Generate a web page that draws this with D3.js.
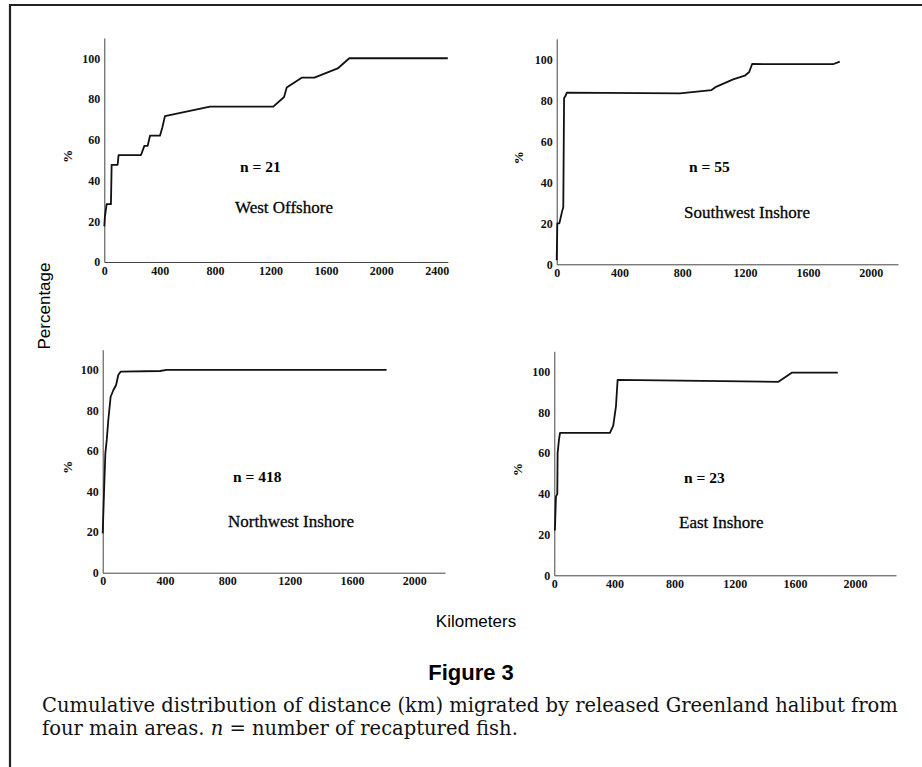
<!DOCTYPE html>
<html lang="en">
<head>
<meta charset="utf-8">
<title>Figure 3</title>
<script src="https://d3js.org/d3.v7.min.js"></script>
<style>
  body { margin: 0; background: #fff; }
  svg { display: block; }
  .axis text { font-family: "Liberation Serif", serif; font-weight: bold; font-size: 12px; fill: #111; }
  .axis path { stroke: #444; stroke-width: 1; }
</style>
</head>
<body>
<script>
// values (km, cumulative %)
const westKm  = [0, 4, 17, 48, 53, 96, 103, 265, 289, 313, 330, 402, 419, 438, 763, 1220, 1298, 1317, 1425, 1517, 1685, 1769, 2480];
const westPct = [17.5, 22, 28.4, 28.4, 47.7, 47.7, 52.5, 52.5, 57, 57, 62, 62, 66, 71.6, 76.3, 76.3, 81, 85.6, 90.5, 90.5, 95, 100, 100];

const southwestKm  = [0, 4, 17, 34, 42, 47, 59, 64, 785, 986, 1018, 1124, 1198, 1226, 1245, 1760, 1803];
const southwestPct = [2, 20, 20, 25.7, 28, 81, 82.6, 83.7, 83.4, 85, 86.7, 90.2, 92, 93.8, 97.7, 97.6, 98.9];

const northwestKm  = [0, 9, 17, 26, 36, 51, 68, 86, 100, 116, 368, 411, 1822];
const northwestPct = [19.4, 40.8, 58.9, 65.5, 75.3, 86.8, 90, 92.6, 97.5, 99.2, 99.5, 100, 100];

const eastKm  = [4, 11, 20, 22, 31, 38, 370, 392, 410, 421, 1490, 1579, 1885];
const eastPct = [22, 38.6, 40, 60, 66.6, 69.9, 69.9, 73.5, 83, 96, 95, 99.5, 99.5];

const areaNames = ["West Offshore", "Southwest Inshore", "Northwest Inshore", "East Inshore"];
const recaptured = [21, 55, 418, 23];

const xTicksWide = [0, 400, 800, 1200, 1600, 2000, 2400];
const xTicks = [0, 400, 800, 1200, 1600, 2000];
const yTicks = [0, 20, 40, 60, 80, 100];

// where each panel sits on the page
const layout = [
  {xEnd: 2480, xr: [104.3, 447.8], yr: [262, 37.9],    ticks: xTicksWide, pctX: 72,  nx: 240, ny: 172, namey: 213},
  {xEnd: 2174, xr: [556.7, 898],   yr: [264.3, 38.8],  ticks: xTicks,     pctX: 523, nx: 689, ny: 172, namey: 218},
  {xEnd: 2197, xr: [102.7, 445],   yr: [572.7, 349.7], ticks: xTicks,     pctX: 72,  nx: 233, ny: 482, namey: 527},
  {xEnd: 2272, xr: [554.3, 896],   yr: [575.3, 351.3], ticks: xTicks,     pctX: 522, nx: 684, ny: 483, namey: 528}
];

const series = [
  d3.zip(westKm, westPct),
  d3.zip(southwestKm, southwestPct),
  d3.zip(northwestKm, northwestPct),
  d3.zip(eastKm, eastPct)
];

const width = 922, height = 767;

const svg = d3.select("body")
  .append("svg")
  .attr("width", width)
  .attr("height", height);

// frame: top and left rules only
svg.append("path")
  .attr("d", "M" + width + ",5H10V" + height)
  .attr("fill", "none")
  .attr("stroke", "#222")
  .attr("stroke-width", 2.2);

series.forEach((pts, i) => {
  const L = layout[i];
  const x = d3.scaleLinear().domain([0, L.xEnd]).range(L.xr);
  const y = d3.scaleLinear().domain([0, 110]).range(L.yr);
  const g = svg.append("g");

  g.append("g")
    .attr("class", "axis")
    .attr("transform", "translate(0," + y(0) + ")")
    .call(d3.axisBottom(x).tickValues(L.ticks).tickSize(0).tickPadding(4).tickFormat(d3.format("d")))
    .call(s => s.selectAll(".tick line").remove());

  g.append("g")
    .attr("class", "axis")
    .attr("transform", "translate(" + x(0) + ",0)")
    .call(d3.axisLeft(y).tickValues(yTicks).tickSize(0).tickPadding(4).tickFormat(d3.format("d")))
    .call(s => s.selectAll(".tick line").remove());

  g.append("path")
    .datum(pts)
    .attr("fill", "none")
    .attr("stroke", "#111")
    .attr("stroke-width", 1.8)
    .attr("stroke-linejoin", "round")
    .attr("d", d3.line().x(d => x(d[0])).y(d => y(d[1])));

  // "%" axis title
  const midY = (y(0) + y(100)) / 2;
  g.append("text")
    .attr("transform", "translate(" + L.pctX + "," + (midY - 4) + ")rotate(-90)")
    .attr("text-anchor", "middle")
    .style("font-family", "Liberation Serif, serif")
    .style("font-weight", "bold")
    .style("font-size", "13px")
    .text("%");

  g.append("text")
    .attr("x", L.nx)
    .attr("y", L.ny)
    .style("font-family", "Liberation Serif, serif")
    .style("font-weight", "bold")
    .style("font-size", "15.5px")
    .text("n = " + recaptured[i]);

  g.append("text")
    .attr("x", L.nx - 5)
    .attr("y", L.namey)
    .style("font-family", "Liberation Serif, serif")
    .style("font-size", "17px")
    .style("stroke", "#111")
    .style("stroke-width", 0.3)
    .text(areaNames[i]);
});

// shared titles
svg.append("text")
  .attr("transform", "translate(50,306)rotate(-90)")
  .attr("text-anchor", "middle")
  .style("font-family", "Liberation Sans, Arial, sans-serif")
  .style("font-size", "17px")
  .text("Percentage");

svg.append("text")
  .attr("x", 476)
  .attr("y", 627)
  .attr("text-anchor", "middle")
  .style("font-family", "Liberation Sans, Arial, sans-serif")
  .style("font-size", "17px")
  .text("Kilometers");

svg.append("text")
  .attr("x", 471)
  .attr("y", 680)
  .attr("text-anchor", "middle")
  .style("font-family", "Liberation Sans, Arial, sans-serif")
  .style("font-weight", "bold")
  .style("font-size", "22px")
  .text("Figure 3");

const caption = svg.append("g")
  .style("font-family", "DejaVu Serif, serif")
  .style("font-size", "19.5px")
  .style("fill", "#111");

caption.append("text")
  .attr("x", 42)
  .attr("y", 712)
  .text("Cumulative distribution of distance (km) migrated by released Greenland halibut from");

const line2 = caption.append("text")
  .attr("x", 42)
  .attr("y", 735);
line2.append("tspan").text("four main areas. ");
line2.append("tspan").style("font-style", "italic").text("n");
line2.append("tspan").text(" = number of recaptured fish.");
</script>
</body>
</html>
